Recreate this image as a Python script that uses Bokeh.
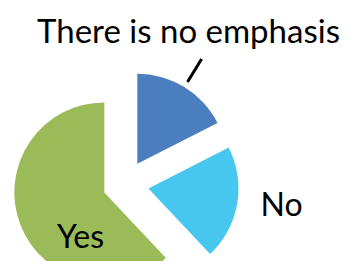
import numpy as np
from bokeh.plotting import figure
from bokeh.models import Range1d, Label, ColumnDataSource
from bokeh.embed import file_html
from bokeh.resources import INLINE

# ---- data ----
categories = ["There is no emphasis", "No", "Yes"]
values = [17.5, 20.5, 62.0]
colors = ["#4A7EBF", "#47C6EF", "#9BBB59"]

# ---- layout (reference pixel frame, y measured upward from bottom of 277px image) ----
IMG_W, IMG_H = 356, 277
W, H = 340, 261
CX, CY = 124.3, IMG_H - 183.8
R = 90
EXPLODE = [24, 24, 22]
FONT = "Lato"
TEXT_SHIFT = 13

p = figure(width=W, height=H, output_backend="svg", toolbar_location=None,
           x_range=Range1d(0, W),
           y_range=Range1d(IMG_H - H, IMG_H),
           min_border=0)
p.axis.visible = False
p.grid.visible = False
p.outline_line_color = None
p.background_fill_color = "white"

vals = np.array(values, dtype=float)
frac = vals / vals.sum()
cum = np.concatenate([[0], np.cumsum(frac)])
start = np.pi / 2 - 2 * np.pi * cum[:-1]
end = np.pi / 2 - 2 * np.pi * cum[1:]
mid = (start + end) / 2
xs = CX + np.array(EXPLODE) * np.cos(mid)
ys = CY + np.array(EXPLODE) * np.sin(mid)

src = ColumnDataSource(dict(x=xs, y=ys, start=start, end=end, color=colors, cat=categories))
p.wedge(x="x", y="y", radius=R, start_angle="start", end_angle="end",
        direction="clock", fill_color="color", line_color=None, source=src)

# leader line for first slice
r1, r2 = R + 6, R + 33
p.segment(x0=[xs[0] + r1 * np.cos(mid[0])], y0=[ys[0] + r1 * np.sin(mid[0])],
          x1=[xs[0] + r2 * np.cos(mid[0])], y1=[ys[0] + r2 * np.sin(mid[0])],
          line_color="black", line_width=3)

label_pos = [(188, IMG_H - 42, "33px"), (281, IMG_H - 216, "32px"), (80, IMG_H - 248, "32px")]
for cat, (lx, ly, fs) in zip(categories, label_pos):
    p.add_layout(Label(x=lx, y=ly + TEXT_SHIFT, text=cat, text_align="center",
                       text_baseline="alphabetic",
                       text_font=FONT, text_font_size=fs, text_color="black"))

open("out.html", "w").write(file_html(p, INLINE))
